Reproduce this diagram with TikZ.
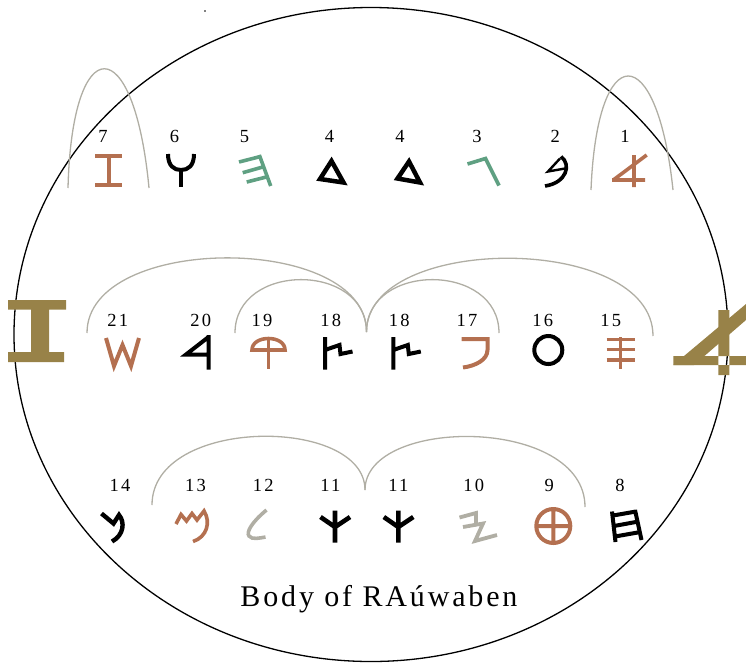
\documentclass[tikz,border=0pt]{standalone}
\usepackage{fontspec}
\setmainfont{Liberation Serif}
\newfontfamily\numfont[LetterSpace=12]{Liberation Serif}
\newfontfamily\titlefont[LetterSpace=9.5]{Liberation Serif}
\definecolor{glyphbrown}{RGB}{180,112,80}
\definecolor{glyphgreen}{RGB}{95,160,130}
\definecolor{glyphgray}{RGB}{176,174,164}
\definecolor{glypholive}{RGB}{152,130,72}
\tikzset{
  glyph/.style={line width=4pt, line cap=butt, line join=miter},
  link/.style={glyphgray, line width=1.3pt},
  num/.style={font=\numfont\fontsize{18.5}{18.5}\selectfont, anchor=base, inner sep=0pt},
}
\begin{document}
\begin{tikzpicture}[x=1pt, y=-1pt]
    \useasboundingbox (0,0) rectangle (746,662);

    % Outline of the body
    \draw[line width=1.3pt] (371,334.5) ellipse [x radius=357, y radius=327];
    \fill (205,11) circle [radius=0.8];

    % Numbers
    \foreach \x/\n [count=\i] in {103/7, 174.5/6, 244.5/5, 329.5/4, 400/4, 477/3, 555.3/2, 625/1}
        \node[num] (rowa\i) at (\x,142) {\n};
    \foreach \x/\n [count=\i] in {117.8/21, 200.8/20, 262/19, 330.7/18, 399.3/18, 467/17, 542.7/16, 610.7/15}
        \node[num] (rowb\i) at (\x,326) {\n};
    \foreach \x/\n [count=\i] in {120/14, 195.5/13, 263.3/12, 330.3/11, 398.3/11, 473.7/10, 549.3/9, 620/8}
        \node[num] (rowc\i) at (\x,491.7) {\n};

    % Top row glyphs
    \draw[glyph, glyphbrown] (95,156.3) -- (122,156.3) (108.7,156.3) -- (108.7,185) (95,185) -- (122,185);
    \draw[glyph] (168,154) .. controls (168,166) and (174,170) .. (181,170) .. controls (188,170) and (194,166) .. (194,154);
    \draw[glyph] (181,170) -- (181,187);
    \draw[glyph, glyphgreen, line width=3.6pt] (259.3,155) -- (270.7,186);
    \draw[glyph, glyphgreen, line width=3.6pt] (239,162) -- (260.5,156.5) (242.7,172.7) -- (264.5,166.5) (246.7,182) -- (268.3,176.5);
    \draw[glyph, line width=4.5pt] (331.5,161) -- (320,179) -- (343.5,182.5) -- cycle;
    \draw[glyph, line width=4.5pt] (409,161.5) -- (397.5,178.5) -- (420,182.5) -- cycle;
    \draw[glyph, glyphgreen, line width=3.6pt] (467.5,164) -- (485.5,158.5) -- (499,185.5);
    \draw[glyph, line width=3.6pt] (561,156.5) .. controls (572,165) and (566,183) .. (545,186);
    \draw[glyph, line width=2.4pt] (560,158.5) -- (548,171.5) -- (565,168.5);
    \draw[glyph, glyphbrown, line width=3.6pt] (634,155) -- (634,187) (612,180) -- (645,180) (613.3,180) -- (646.7,155);

    % Middle row glyphs
    \fill[glypholive] (8,300) rectangle (66,309.5) (8,352) rectangle (64,362) (31,300) rectangle (49,362);
    \draw[glyph, glyphbrown] (106,338) -- (114,366) -- (122.5,345) -- (131,366) -- (139,338);
    \draw[glyph] (208.5,335) -- (208.5,369.5) (208.5,337) -- (186,354.5) -- (208.5,354.5);
    \draw[glyph, glyphbrown, line width=3.6pt] (252,350) .. controls (252,342.8) and (259.4,338.5) .. (268.5,338.5) .. controls (277.6,338.5) and (285,342.8) .. (285,350) -- cycle;
    \draw[glyph, glyphbrown, line width=3.6pt] (268.5,338.5) -- (268.5,369);
    \foreach \x in {325, 393.3}
        \draw[glyph] (\x,337) -- (\x,369.5) (\x,350) -- (\x+14.5,345) -- (\x+15.5,354) -- (\x+27.5,351.5);
    \draw[glyph, glyphbrown] (461.5,339) -- (487.5,339) -- (487.5,350) .. controls (487.5,360) and (475,366) .. (463,367.5);
    \draw[glyph] (548.3,350) circle [radius=14];
    \draw[glyph, glyphbrown, line width=3.4pt] (620.7,337) -- (620.7,369) (606.7,339.5) -- (635,339.5) (606.7,349.5) -- (635,349.5) (606.7,360) -- (635,360);
    \fill[glypholive] (718.3,310) rectangle (729.3,375) (673.3,356) -- (746,356) -- (746,365) -- (673.3,365) -- cycle;
    \fill[glypholive] (673.3,365) -- (746,304) -- (746,320) -- (694,365) -- cycle;

    % Bottom row glyphs
    \draw[glyph, line width=4.4pt] (101.5,513.5) -- (113.5,523.5) -- (119,515) .. controls (125,522) and (124,535) .. (112,541.5);
    \draw[glyph, glyphbrown, line width=3.6pt] (176,524) -- (181,514.5) -- (186.5,521) -- (192,513.5) -- (197,520) -- (204,511) .. controls (211,522) and (207,537) .. (193,541.5);
    \draw[glyph, glyphgray, line width=3.6pt] (266.5,510) .. controls (252,522) and (246,532) .. (249,536) .. controls (252,540) and (260,538) .. (265.5,537);
    \foreach \x in {335, 398.3}
        \draw[glyph, line width=4.6pt] (\x,510.5) -- (\x,542.7) (\x-14.5,517) -- (\x,527) -- (\x+15,517);
    \draw[glyph, glyphgray, line width=3.8pt] (459.5,517.5) -- (476,513) -- (476,524);
    \draw[glyph, glyphgray, line width=3.8pt] (463,527) -- (483,523.5) -- (475,541) -- (497,535);
    \draw[glyph, glyphbrown] (553.3,526) circle [radius=17] (536.3,526) -- (570.3,526) (553.3,509) -- (553.3,543);
    \draw[glyph] (612,511.5) -- (615.5,542) (635,510) -- (641.5,540) (613,515.5) -- (636,511.5) (614,526) -- (638.5,521.5) (615,536.5) -- (640.5,532);

    % Links
    \coordinate (cuspb) at (366.5,332);
    \coordinate (cuspc) at (365,490);
    \draw[link] (68,188) .. controls (72,29) and (134,29) .. (149,188);
    \draw[link] (591,190) .. controls (597,38) and (657,38) .. (673,190);
    \draw[link] (87,333) .. controls (87,233) and (cuspb |- 0,233) .. (cuspb);
    \draw[link] (235,333) .. controls (235,262) and (cuspb |- 0,262) .. (cuspb);
    \draw[link] (cuspb) .. controls (cuspb |- 0,262) and (499,262) .. (499,333);
    \draw[link] (cuspb) .. controls (cuspb |- 0,233) and (653,233) .. (653,336);
    \draw[link] (152,505) .. controls (152,416) and (cuspc |- 0,416) .. (cuspc);
    \draw[link] (cuspc) .. controls (cuspc |- 0,416) and (585,416) .. (585,507);

    % Caption
    \node[font=\titlefont\fontsize{30}{30}\selectfont, anchor=base, inner sep=0pt] (caption) at (379,606) {Body of RAúwaben};
\end{tikzpicture}
\end{document}
